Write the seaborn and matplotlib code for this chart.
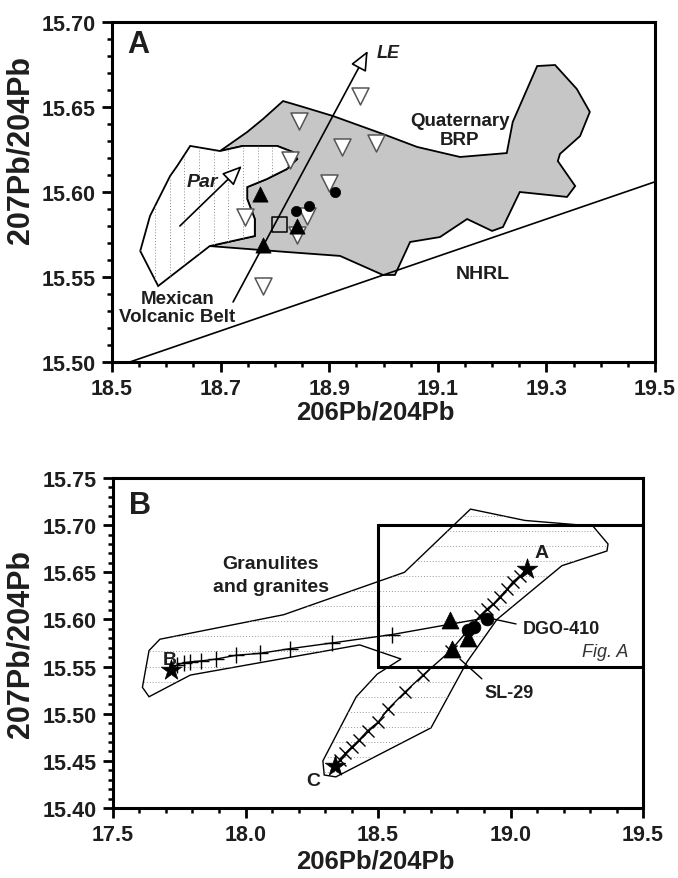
import numpy as np
import pandas as pd
import matplotlib
matplotlib.use('Agg')
import matplotlib.pyplot as plt
import seaborn as sns
from matplotlib.patches import Polygon, Rectangle
from matplotlib.ticker import MultipleLocator, FormatStrFormatter, FixedLocator

# ---------------- Panel A data ----------------
brp_x = [18.815, 18.846, 18.907, 18.999, 19.062, 19.141, 19.227, 19.238, 19.283, 19.316,
         19.356, 19.380, 19.362, 19.325, 19.321, 19.353, 19.338, 19.251, 19.220, 19.200,
         19.154, 19.104, 19.049, 19.021, 18.999, 18.920, 18.822, 18.680, 18.763, 18.763,
         18.749, 18.749, 18.785, 18.822, 18.841, 18.833, 18.804, 18.741, 18.699, 18.749, 18.778]
brp_y = [15.6535, 15.6506, 15.6447, 15.6341, 15.6265, 15.6206, 15.6229, 15.6412, 15.6741, 15.6747,
         15.6606, 15.6471, 15.6329, 15.6224, 15.6182, 15.6035, 15.5971, 15.6000, 15.5794, 15.5771,
         15.5841, 15.5735, 15.5706, 15.5512, 15.5512, 15.5624, 15.5647, 15.5682, 15.5741, 15.5841,
         15.5959, 15.6029, 15.6076, 15.6135, 15.6194, 15.6235, 15.6271, 15.6271, 15.6241, 15.6353, 15.6429]

par_x = [18.699, 18.644, 18.620, 18.607, 18.570, 18.552, 18.585, 18.680, 18.763, 18.763,
         18.749, 18.749, 18.785, 18.822, 18.841, 18.833, 18.804, 18.741]
par_y = [15.6241, 15.6271, 15.6153, 15.6094, 15.5859, 15.5653, 15.5447, 15.5682, 15.5741, 15.5841,
         15.5959, 15.6029, 15.6076, 15.6135, 15.6194, 15.6235, 15.6271, 15.6271]

brp_samples_x = [18.957, 18.844, 18.924, 18.986, 18.828, 18.900, 18.745, 18.859, 18.841, 18.778]
brp_samples_y = [15.6565, 15.6418, 15.6265, 15.6288, 15.6188, 15.6053, 15.5853, 15.5859, 15.5747, 15.5447]

tri_x = [18.773, 18.778, 18.841]
tri_y = [15.599, 15.569, 15.580]
circ_x = [18.911, 18.863, 18.839]
circ_y = [15.600, 15.592, 15.589]
square_x = [18.809]
square_y = [15.581]

nhrl_x = [18.5, 19.5]
nhrl_y = [15.4964, 15.606]
le_x = [18.723, 18.971]
le_y = [15.5353, 15.683]
par_arrow_x = [18.625, 18.739]
par_arrow_y = [15.580, 15.6153]

xticksA = [18.5, 18.7, 18.9, 19.1, 19.3, 19.5]

# ---------------- Panel B data ----------------
gran_x = [17.636, 17.611, 17.636, 17.677, 18.144, 18.600, 18.849, 19.054, 19.311, 19.368,
          19.364, 19.194, 18.949, 18.836, 18.700, 18.341, 18.297, 18.292, 18.418, 18.497,
          18.587, 18.431, 17.792]
gran_y = [15.518, 15.528, 15.567, 15.579, 15.605, 15.650, 15.717, 15.705, 15.699, 15.680,
          15.6726, 15.657, 15.600, 15.555, 15.485, 15.433, 15.435, 15.450, 15.518, 15.542,
          15.558, 15.573, 15.541]

mixB_x = [17.718, 17.743, 17.767, 17.792, 17.833, 17.890, 17.964, 18.054, 18.169, 18.325, 18.554, 18.904]
mixB_y = [15.5465, 15.552, 15.554, 15.555, 15.556, 15.558, 15.562, 15.564, 15.569, 15.575, 15.584, 15.6015]

mixAC_x = [18.336, 18.357, 18.377, 18.402, 18.428, 18.461, 18.500, 18.538, 18.602, 18.670,
           18.775, 18.885, 18.911, 18.934, 18.960, 18.987, 19.009, 19.036, 19.062]
mixAC_y = [15.445, 15.451, 15.458, 15.465, 15.472, 15.482, 15.491, 15.505, 15.523, 15.541,
           15.567, 15.604, 15.611, 15.616, 15.624, 15.632, 15.640, 15.646, 15.6535]

star_x = [19.062, 17.718, 18.336]
star_y = [15.6535, 15.5465, 15.445]
star_labels = ['A', 'B', 'C']
star_label_x = [19.119, 17.713, 18.254]
star_label_y = [15.6715, 15.558, 15.429]

figA_box = [18.5, 15.55, 19.5, 15.70]

# ---------------- style ----------------
sns.set_theme(style='ticks')
plt.rcParams['font.family'] = ['Liberation Sans', 'DejaVu Sans']
plt.rcParams['font.weight'] = 'bold'
TXT = '#1e1e1e'

fig = plt.figure(figsize=(6.78, 8.79), dpi=100)
axA = fig.add_axes([112/678, 1-363/879, 543/678, 340/879])
axB = fig.add_axes([113/678, 1-809/879, 530/678, 330/879])


def style_axis(ax, xmaj, xmin, ymaj, ymin, xfmt, yfmt):
    for s in ax.spines.values():
        s.set_linewidth(2.2)
        s.set_color('black')
        s.set_visible(True)
    if isinstance(xmaj, list):
        ax.xaxis.set_major_locator(FixedLocator(xmaj))
    else:
        ax.xaxis.set_major_locator(MultipleLocator(xmaj))
    ax.xaxis.set_minor_locator(MultipleLocator(xmin))
    ax.yaxis.set_major_locator(MultipleLocator(ymaj))
    ax.yaxis.set_minor_locator(MultipleLocator(ymin))
    ax.xaxis.set_major_formatter(FormatStrFormatter(xfmt))
    ax.yaxis.set_major_formatter(FormatStrFormatter(yfmt))
    ax.tick_params(which='major', length=7.5, width=2.0, direction='out',
                   labelsize=15.5, pad=4, colors='black', labelcolor=TXT)
    ax.tick_params(which='minor', length=3.8, width=1.8, direction='out', colors='black')
    for lab in ax.get_xticklabels() + ax.get_yticklabels():
        lab.set_fontweight('bold')
    ax.grid(False)
    ax.set_facecolor('white')


# ================= Panel A =================
axA.set_xlim(18.5, 19.5)
axA.set_ylim(15.50, 15.70)

brp_poly = Polygon(np.column_stack([brp_x, brp_y]), closed=True, facecolor='#c6c6c6',
                   edgecolor='black', lw=1.3, zorder=1)
axA.add_patch(brp_poly)
par_poly = Polygon(np.column_stack([par_x, par_y]), closed=True, facecolor='white',
                   edgecolor='black', lw=1.3, zorder=1.5)
axA.add_patch(par_poly)
for xv in np.arange(18.552, 18.85, 0.027):
    ln, = axA.plot([xv, xv], [15.54, 15.63], color='#8a8a8a', lw=0.7,
                   linestyle=(0, (1, 2)), zorder=1.6)
    ln.set_clip_path(par_poly)

axA.plot(nhrl_x, nhrl_y, color='black', lw=1.2, zorder=2)
for xs, ys in [(le_x, le_y), (par_arrow_x, par_arrow_y)]:
    axA.annotate('', xy=(xs[1], ys[1]), xytext=(xs[0], ys[0]),
                 arrowprops=dict(arrowstyle='-|>,head_length=0.8,head_width=0.35',
                                 fc='white', ec='black', lw=1.2, mutation_scale=15,
                                 shrinkA=0, shrinkB=0), zorder=2)

sns.scatterplot(x=brp_samples_x, y=brp_samples_y, marker='v', s=150, color='white',
                edgecolor='#555555', linewidth=1.1, ax=axA, zorder=3)
sns.scatterplot(x=square_x, y=square_y, marker='s', s=120, color='none',
                edgecolor='black', linewidth=1.1, ax=axA, zorder=3)
sns.scatterplot(x=tri_x, y=tri_y, marker='^', s=120, color='black',
                edgecolor='black', linewidth=0.5, ax=axA, zorder=4)
sns.scatterplot(x=circ_x, y=circ_y, marker='o', s=55, color='black',
                edgecolor='black', linewidth=0.5, ax=axA, zorder=4)

axA.text(18.548, 15.687, 'A', fontsize=22, fontweight='bold', ha='center', va='center', color=TXT)
axA.text(18.988, 15.682, 'LE', fontsize=13, fontweight='bold', style='italic',
         ha='left', va='center', color=TXT)
axA.text(18.666, 15.606, 'Par', fontsize=14, fontweight='bold', style='italic',
         ha='center', va='center', color=TXT)
axA.text(19.14, 15.6365, 'Quaternary\nBRP', fontsize=13.5, fontweight='bold',
         ha='center', va='center', linespacing=1.1, color=TXT)
axA.text(19.183, 15.552, 'NHRL', fontsize=14, fontweight='bold', ha='center', va='center', color=TXT)
axA.text(18.62, 15.532, 'Mexican\nVolcanic Belt', fontsize=13.5, fontweight='bold',
         ha='center', va='center', linespacing=1.1, color=TXT)

style_axis(axA, xticksA, 0.05, 0.05, 0.01, '%.1f', '%.2f')
axA.set_xlabel('206Pb/204Pb', fontsize=18.5, fontweight='bold', color=TXT)
axA.set_ylabel('207Pb/204Pb', fontsize=22, fontweight='bold', color=TXT)
axA.xaxis.set_label_coords((375-112)/543, (363-413)/340)
axA.xaxis.label.set_verticalalignment('center')
axA.yaxis.set_label_coords((36-112)/543, (363-150)/340)

# ================= Panel B =================
axB.set_xlim(17.5, 19.5)
axB.set_ylim(15.40, 15.75)

gran_poly = Polygon(np.column_stack([gran_x, gran_y]), closed=True, facecolor='white',
                    edgecolor='black', lw=1.0, zorder=1)
axB.add_patch(gran_poly)
for yv in np.arange(15.438, 15.72, 0.016):
    ln, = axB.plot([17.55, 19.45], [yv, yv], color='#9a9a9a', lw=0.7,
                   linestyle=(0, (1, 2)), zorder=1.2)
    ln.set_clip_path(gran_poly)

axB.add_patch(Rectangle((figA_box[0], figA_box[1]), figA_box[2]-figA_box[0],
                        figA_box[3]-figA_box[1], fill=False, lw=2.2,
                        edgecolor='black', zorder=2))

axB.plot(mixB_x, mixB_y, color='black', lw=1.0, zorder=2.5)
axB.plot(mixB_x[1:-1], mixB_y[1:-1], linestyle='none', marker='+', markersize=11,
         markeredgewidth=1.0, color='black', zorder=2.6)
axB.plot(mixAC_x, mixAC_y, color='black', lw=1.0, zorder=2.5)
axB.plot(mixAC_x[1:-1], mixAC_y[1:-1], linestyle='none', marker='x', markersize=8,
         markeredgewidth=1.0, color='black', zorder=2.6)

axB.plot([18.934, 19.021], [15.6005, 15.5952], color='black', lw=1.0, zorder=2)
axB.plot([18.809, 18.892], [15.558, 15.537], color='black', lw=1.0, zorder=2)

sns.scatterplot(x=tri_x, y=tri_y, marker='^', s=150, color='black',
                edgecolor='black', linewidth=0.5, ax=axB, zorder=4)
sns.scatterplot(x=circ_x, y=circ_y, marker='o', s=85, color='black',
                edgecolor='black', linewidth=0.5, ax=axB, zorder=4)
sns.scatterplot(x=star_x, y=star_y, marker='*', s=240, color='black',
                edgecolor='black', linewidth=0.5, ax=axB, zorder=5)

for lx, ly, lt in zip(star_label_x, star_label_y, star_labels):
    axB.text(lx, ly, lt, fontsize=14, fontweight='bold', ha='center', va='center', color=TXT)

axB.text(17.603, 15.721, 'B', fontsize=22, fontweight='bold', ha='center', va='center', color=TXT)
axB.text(18.095, 15.647, 'Granulites\nand granites', fontsize=14, fontweight='bold',
         ha='center', va='center', linespacing=1.5, color=TXT)
axB.text(19.047, 15.590, 'DGO-410', fontsize=13, fontweight='bold', ha='left', va='center', color=TXT)
axB.text(18.90, 15.523, 'SL-29', fontsize=13, fontweight='bold', ha='left', va='center', color=TXT)
axB.text(19.443, 15.5655, 'Fig. A', fontsize=13, fontweight='normal', style='italic',
         ha='right', va='center', color='#333333')

style_axis(axB, 0.5, 0.1, 0.05, 0.01, '%.1f', '%.2f')
axB.set_xlabel('206Pb/204Pb', fontsize=18.5, fontweight='bold', color=TXT)
axB.set_ylabel('207Pb/204Pb', fontsize=22, fontweight='bold', color=TXT)
axB.xaxis.set_label_coords((375-113)/530, (809-862)/330)
axB.xaxis.label.set_verticalalignment('center')
axB.yaxis.set_label_coords((36-113)/530, 0.5)

fig.savefig('out.png', dpi=100, facecolor='white')
